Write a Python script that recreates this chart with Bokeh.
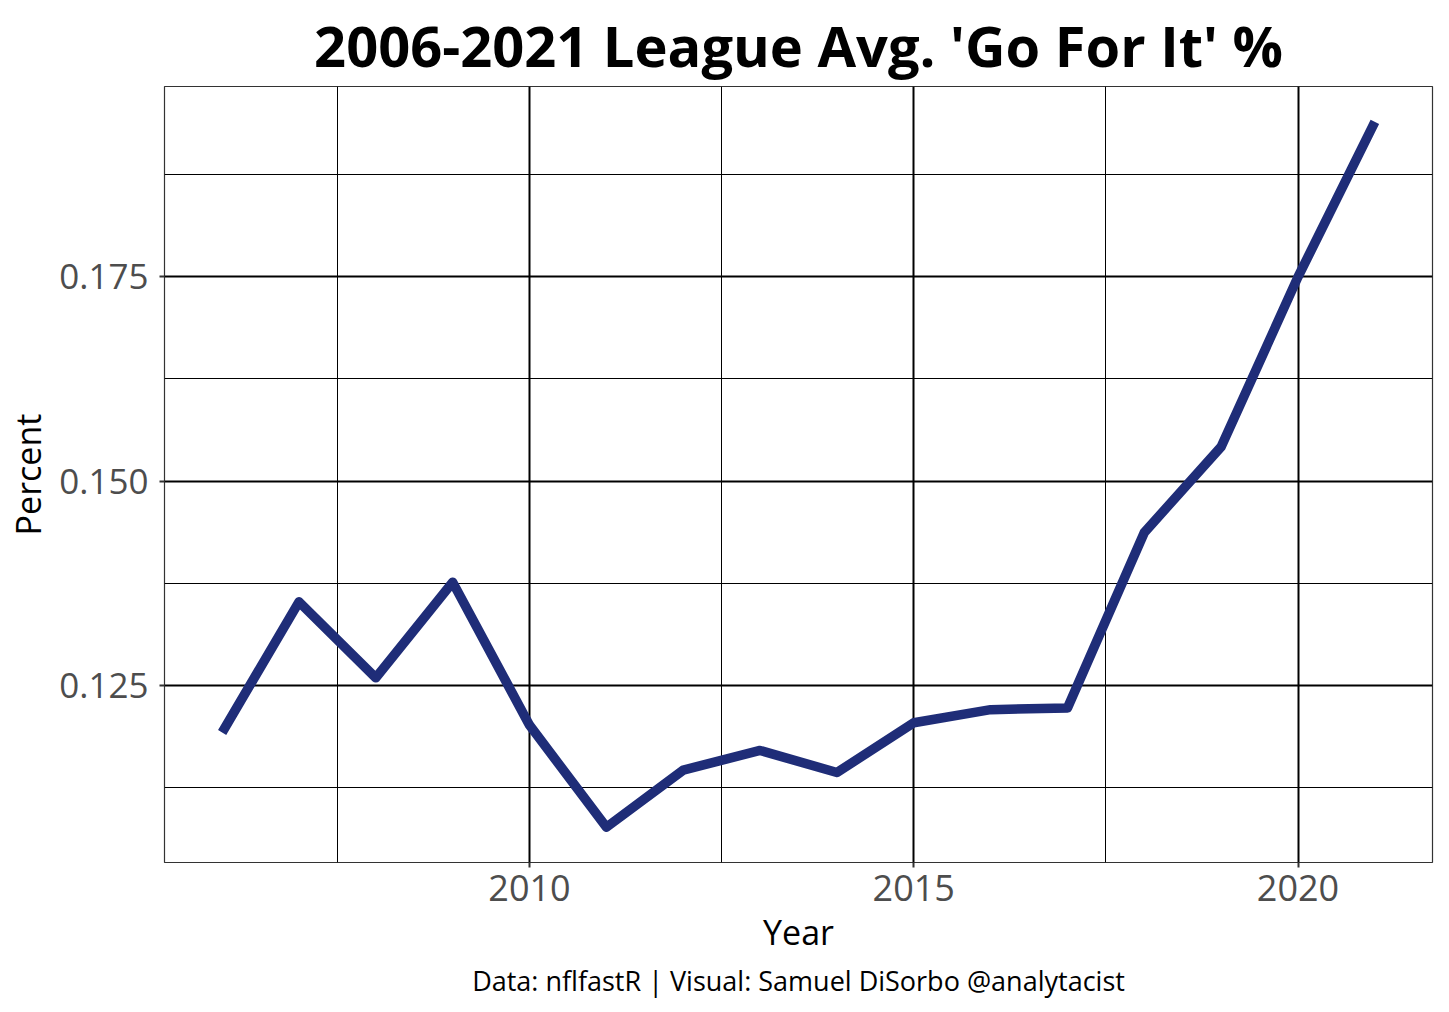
from bokeh.plotting import figure
from bokeh.models import FixedTicker, PrintfTickFormatter, Range1d, Title
from bokeh.embed import file_html
from bokeh.resources import INLINE

years = [2006, 2007, 2008, 2009, 2010, 2011, 2012, 2013, 2014, 2015, 2016, 2017, 2018, 2019, 2020, 2021]
go_pct = [0.1192, 0.1352, 0.1259, 0.1376, 0.1201, 0.1076, 0.1146, 0.1170, 0.1143, 0.1204, 0.1220, 0.1222, 0.1437, 0.1542, 0.1750, 0.1940]

x_major = [2010, 2015, 2020]
x_minor = [2007.5, 2012.5, 2017.5]
y_major = [0.125, 0.150, 0.175]
y_minor = [0.1125, 0.1375, 0.1625, 0.1875]

FONT = "Open Sans"

p = figure(width=1441, height=1004, output_backend="svg", toolbar_location=None,
           min_border_left=164, min_border_right=9, min_border_top=86, min_border_bottom=142)

xr = max(years) - min(years)
yr = max(go_pct) - min(go_pct)
p.x_range = Range1d(min(years) - 0.05 * xr, max(years) + 0.05 * xr)
p.y_range = Range1d(min(go_pct) - 0.05 * yr, max(go_pct) + 0.05 * yr)

p.line(years, go_pct, line_color="#1f2d78", line_width=9.5, line_join="round")

p.xaxis.ticker = FixedTicker(ticks=x_major, minor_ticks=x_minor)
p.yaxis.ticker = FixedTicker(ticks=y_major, minor_ticks=y_minor)
p.yaxis.formatter = PrintfTickFormatter(format="%.3f")

for ax in (p.xaxis, p.yaxis):
    ax.axis_line_color = None
    ax.major_tick_out = 5
    ax.major_tick_in = 0
    ax.minor_tick_out = 0
    ax.minor_tick_in = 0
    ax.major_tick_line_color = "#333333"
    ax.major_tick_line_width = 2
    ax.major_label_text_font = FONT
    ax.major_label_text_color = "#4d4d4d"
    ax.axis_label_text_font = FONT
    ax.axis_label_text_font_size = "34px"
    ax.axis_label_text_font_style = "normal"
    ax.axis_label_text_color = "#000000"

p.xaxis.major_label_text_font_size = "36px"
p.yaxis.major_label_text_font_size = "35px"
p.xaxis.axis_label = "Year"
p.yaxis.axis_label = "Percent"
p.xaxis.major_label_standoff = 7
p.yaxis.major_label_standoff = 11
p.xaxis.axis_label_standoff = 5
p.yaxis.axis_label_standoff = 5

for g in (p.xgrid, p.ygrid):
    g.grid_line_color = "#000000"
    g.grid_line_width = 2
    g.minor_grid_line_color = "#000000"
    g.minor_grid_line_width = 1

p.outline_line_color = "#333333"
p.outline_line_width = 1.2
p.background_fill_color = "white"
p.border_fill_color = "white"

p.title = Title(text="2006-2021 League Avg. 'Go For It' %", align="center",
                text_font=FONT, text_font_size="56px", text_font_style="bold",
                text_color="#000000", standoff=8)

cap = Title(text="Data: nflfastR | Visual: Samuel DiSorbo @analytacist", align="center",
            text_font=FONT, text_font_size="27px", text_font_style="normal",
            text_color="#000000", standoff=4)
p.add_layout(cap, "below")

open("out.html", "w").write(file_html(p, INLINE))
